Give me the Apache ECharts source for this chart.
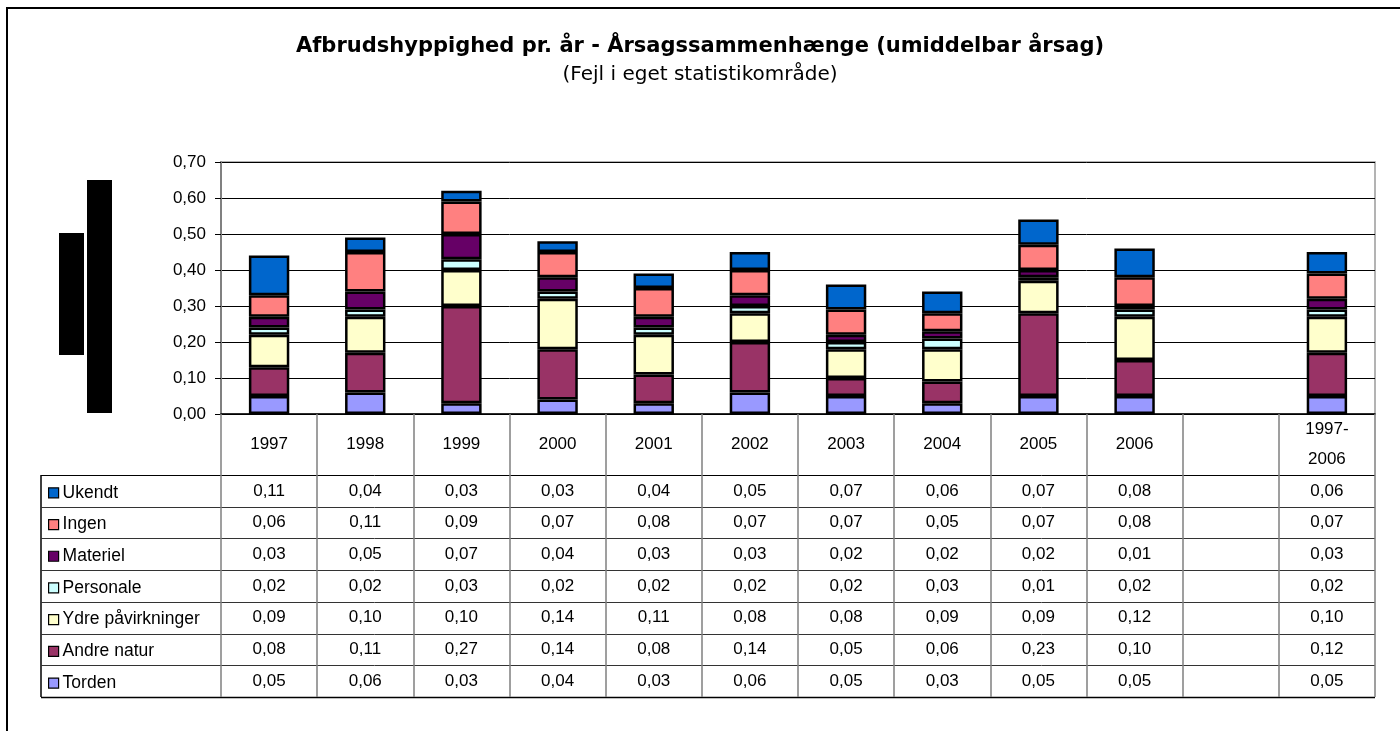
<!DOCTYPE html>
<html>
<head>
<meta charset="utf-8">
<script src="https://cdn.jsdelivr.net/npm/echarts@6/dist/echarts.min.js"></script>
<style>
  html, body { margin: 0; padding: 0; background: #fff; }
  #chart { width: 1400px; height: 731px; }
</style>
</head>
<body>
<div id="chart"></div>
<script>
// categories (the empty one is the gap column before the total)
var years = ['1997', '1998', '1999', '2000', '2001', '2002', '2003', '2004', '2005', '2006', '', '1997-2006']

// series values, bottom of stack first
var torden = [0.05, 0.06, 0.03, 0.04, 0.03, 0.06, 0.05, 0.03, 0.05, 0.05, null, 0.05]
var andreNatur = [0.08, 0.11, 0.27, 0.14, 0.08, 0.14, 0.05, 0.06, 0.23, 0.10, null, 0.12]
var ydre = [0.09, 0.10, 0.10, 0.14, 0.11, 0.08, 0.08, 0.09, 0.09, 0.12, null, 0.10]
var personale = [0.02, 0.02, 0.03, 0.02, 0.02, 0.02, 0.02, 0.03, 0.01, 0.02, null, 0.02]
var materiel = [0.03, 0.05, 0.07, 0.04, 0.03, 0.03, 0.02, 0.02, 0.02, 0.01, null, 0.03]
var ingen = [0.06, 0.11, 0.09, 0.07, 0.08, 0.07, 0.07, 0.05, 0.07, 0.08, null, 0.07]
var ukendt = [0.11, 0.04, 0.03, 0.03, 0.04, 0.05, 0.07, 0.06, 0.07, 0.08, null, 0.06]

var yTicks = [0, 0.7, 0.1] // min, max, interval

var seriesDefs = [
  { name: 'Torden', data: torden, color: '#9999FF' },
  { name: 'Andre natur', data: andreNatur, color: '#993366' },
  { name: 'Ydre påvirkninger', data: ydre, color: '#FFFFCC' },
  { name: 'Personale', data: personale, color: '#CCFFFF' },
  { name: 'Materiel', data: materiel, color: '#660066' },
  { name: 'Ingen', data: ingen, color: '#FF8080' },
  { name: 'Ukendt', data: ukendt, color: '#0066CC' }
]

// layout
var plotTop = 162
var plotBottom = 414
var plotLeft = 221
var plotRight = 1375
var headerH = 61
var rowH = 31.7
var tableLeft = 41
var FONT = '"Liberation Sans", Arial, sans-serif'
var TITLE_FONT = '"DejaVu Sans", "Liberation Sans", sans-serif'

function fmt(v) {
  return v == null ? '' : v.toFixed(2).replace('.', ',')
}

// table rows go top->bottom as Ukendt ... Torden
var tableRows = seriesDefs.slice().reverse()

var chart = echarts.init(document.getElementById('chart'))

var graphics = [
  // outer chart frame
  { type: 'rect', shape: { x: 7, y: 8, width: 1500, height: 800 }, style: { fill: null, stroke: '#000', lineWidth: 2 }, silent: true },
  // redaction blocks
  { type: 'rect', shape: { x: 59, y: 233, width: 25, height: 122 }, style: { fill: '#000' }, silent: true },
  { type: 'rect', shape: { x: 87, y: 180, width: 25, height: 233 }, style: { fill: '#000' }, silent: true },
  // left border of the legend column
  { type: 'line', shape: { x1: tableLeft, y1: plotBottom + headerH, x2: tableLeft, y2: plotBottom + headerH + rowH * 7 }, style: { stroke: '#000', lineWidth: 1.5 }, silent: true }
]
for (var r = 0; r <= 7; r++) {
  var yy = Math.round(plotBottom + headerH + rowH * r) + 0.5
  graphics.push({
    type: 'line',
    shape: { x1: tableLeft, y1: yy, x2: plotRight, y2: yy },
    style: { stroke: (r === 0 || r === 7) ? '#000' : '#333', lineWidth: (r === 7) ? 1.5 : 1 },
    silent: true
  })
}

chart.setOption({
  animation: false,
  textStyle: { fontFamily: FONT },
  title: {
    text: 'Afbrudshyppighed pr. år - Årsagssammenhænge (umiddelbar årsag)',
    subtext: '(Fejl i eget statistikområde)',
    left: 'center',
    top: 31,
    itemGap: 8,
    textStyle: { fontFamily: TITLE_FONT, fontSize: 21, fontWeight: 'bold', color: '#000' },
    subtextStyle: { fontFamily: TITLE_FONT, fontSize: 20, color: '#000' }
  },
  legend: {
    orient: 'vertical',
    left: 43,
    top: plotBottom + headerH + rowH / 2 - 12,
    data: tableRows.map(function (s) { return s.name }),
    icon: 'rect',
    itemWidth: 10,
    itemHeight: 10,
    itemGap: rowH - 18,
    itemStyle: { borderColor: '#000', borderWidth: 1.2 },
    textStyle: { fontFamily: FONT, fontSize: 17.5, color: '#000', lineHeight: 18, padding: [0, 0, 0, -1] },
    selectedMode: false
  },
  grid: {
    left: plotLeft,
    right: 1400 - plotRight,
    top: plotTop,
    bottom: 731 - plotBottom,
    show: true,
    borderColor: '#9a9a9a',
    borderWidth: 1.5
  },
  xAxis: {
    type: 'category',
    data: years,
    boundaryGap: true,
    axisLine: { lineStyle: { color: '#000', width: 1.5 } },
    axisTick: {
      show: true,
      interval: 0,
      inside: false,
      length: headerH + rowH * 7,
      lineStyle: { color: '#808080', width: 1.5 }
    },
    axisLabel: {
      interval: 0,
      margin: 0,
      formatter: function (val, idx) {
        if (val === '') return ''
        var head
        if (val.indexOf('-') > 0) {
          var parts = val.split('-')
          head = '{h2|' + parts[0] + '-}\n{h2|' + parts[1] + '}'
        } else {
          head = '{h|' + val + '}'
        }
        var lines = [head]
        tableRows.forEach(function (s) {
          lines.push('{v|' + fmt(s.data[idx]) + '}')
        })
        return lines.join('\n')
      },
      rich: {
        h: { fontFamily: FONT, fontSize: 17, color: '#000', lineHeight: headerH, height: headerH },
        h2: { fontFamily: FONT, fontSize: 17, color: '#000', lineHeight: headerH / 2, height: headerH / 2 },
        v: { fontFamily: FONT, fontSize: 17, color: '#000', lineHeight: rowH, height: rowH }
      }
    },
    splitLine: { show: false }
  },
  yAxis: {
    type: 'value',
    min: yTicks[0],
    max: yTicks[1],
    interval: yTicks[2],
    axisLine: { show: true, lineStyle: { color: '#808080', width: 2 } },
    axisTick: { show: true, inside: false, length: 6, lineStyle: { color: '#000' } },
    axisLabel: {
      fontFamily: FONT,
      fontSize: 17,
      color: '#000',
      margin: 15,
      formatter: function (v) { return fmt(v) }
    },
    splitLine: { show: true, lineStyle: { color: '#000', width: 1 } }
  },
  series: seriesDefs.map(function (s) {
    return {
      name: s.name,
      type: 'bar',
      stack: 'total',
      data: s.data,
      barWidth: '42%',
      itemStyle: { color: s.color, borderColor: '#000', borderWidth: 2.5 }
    }
  }),
  graphic: graphics
})
</script>
</body>
</html>
